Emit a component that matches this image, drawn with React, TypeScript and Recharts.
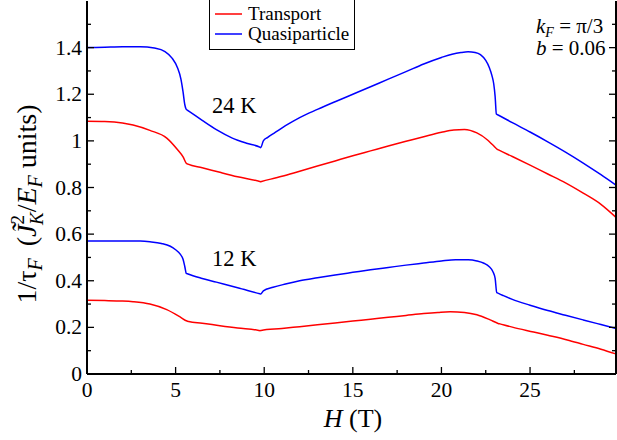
import { Legend, Line, LineChart, XAxis, YAxis } from "recharts";

const H_24_QP = [0, 1, 2, 3, 3.8, 4.4, 4.8, 5.1, 5.3, 5.42, 5.52, 5.6, 5.7, 6.5, 7.3, 8.2, 9.0, 9.75, 9.8, 9.95, 10.2, 10.6, 11.2, 12, 13, 14, 15, 16, 17, 18, 19, 20, 20.6, 21.1, 21.5, 21.9, 22.2, 22.5, 22.7, 22.85, 22.95, 23.03, 23.1, 23.2, 24, 25, 26, 27, 28, 29, 29.85];
const V_24_QP = [1.4, 1.402, 1.404, 1.404, 1.398, 1.383, 1.355, 1.315, 1.265, 1.21, 1.155, 1.135, 1.13, 1.088, 1.048, 1.012, 0.99, 0.973, 0.971, 1.0, 1.015, 1.035, 1.065, 1.1, 1.135, 1.168, 1.2, 1.232, 1.265, 1.297, 1.33, 1.358, 1.372, 1.379, 1.382, 1.379, 1.37, 1.345, 1.315, 1.28, 1.245, 1.19, 1.115, 1.111, 1.078, 1.038, 0.996, 0.952, 0.905, 0.855, 0.81];

const H_24_TR = [0, 1, 2, 2.6, 3.55, 4.5, 5.1, 5.43, 5.6, 5.7, 6.5, 7.5, 8.5, 9.75, 9.8, 9.85, 11, 12, 13, 14, 15, 16, 17, 18, 19, 20, 20.7, 21.3, 22.0, 22.6, 22.9, 23.15, 23.25, 24, 25, 26, 27, 28, 29, 29.85];
const V_24_TR = [1.084, 1.083, 1.077, 1.068, 1.045, 1.012, 0.963, 0.93, 0.904, 0.9, 0.885, 0.865, 0.846, 0.826, 0.825, 0.826, 0.848, 0.87, 0.892, 0.914, 0.936, 0.957, 0.978, 0.998, 1.018, 1.037, 1.047, 1.049, 1.034, 1.004, 0.982, 0.964, 0.96, 0.933, 0.896, 0.858, 0.82, 0.776, 0.728, 0.672];

const H_12_QP = [0, 1, 2, 3, 3.55, 4.2, 4.7, 5.0, 5.25, 5.42, 5.52, 5.6, 5.7, 6.5, 7.3, 8.5, 9.75, 9.8, 9.95, 10.5, 11.2, 12, 13, 14, 15, 16, 17, 18, 19, 20, 20.8, 21.5, 22.0, 22.4, 22.7, 22.9, 23.03, 23.12, 23.22, 23.5, 24, 25, 26, 27, 28, 29, 29.85];
const V_12_QP = [0.57, 0.571, 0.571, 0.57, 0.567, 0.56, 0.548, 0.533, 0.515, 0.492, 0.46, 0.432, 0.429, 0.41, 0.394, 0.37, 0.344, 0.343, 0.357, 0.372, 0.386, 0.4, 0.413, 0.425, 0.436, 0.447, 0.457, 0.467, 0.476, 0.485, 0.49, 0.49, 0.485, 0.475, 0.46, 0.44, 0.41, 0.35, 0.346, 0.336, 0.32, 0.295, 0.272, 0.252, 0.232, 0.212, 0.195];

const H_12_TR = [0, 1, 2, 2.6, 3.55, 4.5, 5.25, 5.64, 5.74, 6.5, 7.5, 8.5, 9.7, 9.76, 9.82, 11, 12, 13, 14, 15, 16, 17, 18, 19, 19.8, 20.5, 21.3, 22.0, 22.75, 23.2, 23.3, 24, 25.2, 26, 27.1, 28, 29, 29.85];
const V_12_TR = [0.316, 0.315, 0.313, 0.31, 0.3, 0.276, 0.245, 0.227, 0.225, 0.218, 0.207, 0.197, 0.187, 0.186, 0.187, 0.195, 0.203, 0.211, 0.219, 0.227, 0.235, 0.243, 0.251, 0.259, 0.264, 0.267, 0.264, 0.254, 0.232, 0.217, 0.215, 0.201, 0.18, 0.166, 0.146, 0.127, 0.106, 0.086];

const X_TICKS = [0, 2.5, 5, 7.5, 10, 12.5, 15, 17.5, 20, 22.5, 25, 27.5];
const Y_TICKS = [0, 0.1, 0.2, 0.3, 0.4, 0.5, 0.6, 0.7, 0.8, 0.9, 1, 1.1, 1.2, 1.3, 1.4, 1.5];
const LEGEND_ORDER = ["Transport", "Quasiparticle"];

const RED = "#ff0000";
const BLUE = "#0000ff";
const FONT = "'Liberation Serif', 'DejaVu Serif', 'Times New Roman', serif";
const serif = { fontFamily: FONT };

const toPoints = (hs: number[], vs: number[]) => hs.map((h, i) => ({ h, v: vs[i] }));

const isMajorX = (v: number) => v % 5 === 0;
const isMajorY = (v: number) => Math.round(v * 10) % 2 === 0;

function BottomTick({ x, y, payload }: any) {
  const major = isMajorX(payload.value);
  return (
    <g>
      <line x1={x} x2={x} y1={y} y2={y - (major ? 7 : 4)} stroke="#000" strokeWidth={1.3} />
      {major && (
        <text x={x} y={y + 23} textAnchor="middle" style={serif} fontSize={21.5} fill="#000">
          {payload.value}
        </text>
      )}
    </g>
  );
}

function TopTick({ x, y, payload }: any) {
  const major = isMajorX(payload.value);
  return <line x1={x} x2={x} y1={y} y2={y + (major ? 7 : 4)} stroke="#000" strokeWidth={1.3} />;
}

function LeftTick({ x, y, payload }: any) {
  const major = isMajorY(payload.value);
  return (
    <g>
      <line x1={x} x2={x + (major ? 7 : 4)} y1={y} y2={y} stroke="#000" strokeWidth={1.3} />
      {major && (
        <text x={x - 5} y={y + 7} textAnchor="end" style={serif} fontSize={21.5} fill="#000">
          {String(Math.round(payload.value * 10) / 10)}
        </text>
      )}
    </g>
  );
}

function RightTick({ x, y, payload }: any) {
  const major = isMajorY(payload.value);
  return <line x1={x} x2={x - (major ? 7 : 4)} y1={y} y2={y} stroke="#000" strokeWidth={1.3} />;
}

function LegendBox({ payload }: any) {
  const items = (payload ?? [])
    .filter((p: any) => p.type !== "none")
    .sort((a: any, b: any) => LEGEND_ORDER.indexOf(a.value) - LEGEND_ORDER.indexOf(b.value));
  return (
    <svg width={146} height={51} style={{ display: "block" }}>
      <rect x={0.5} y={0.5} width={145} height={50} fill="#fff" stroke="#000" strokeWidth={1} />
      {items.map((item: any, i: number) => (
        <g key={item.value}>
          <line x1={6} x2={33} y1={15 + i * 20} y2={15 + i * 20} stroke={item.color} strokeWidth={1.5} />
          <text x={39} y={21 + i * 20} style={serif} fontSize={19} fill="#000">
            {item.value}
          </text>
        </g>
      ))}
    </svg>
  );
}

export default function App() {
  return (
    <div style={{ position: "relative", width: 617, height: 440, background: "#fff" }}>
      <style>{"body{margin:0;background:#fff}"}</style>
      <LineChart width={617} height={440} margin={{ top: 1, right: 0, bottom: 0, left: 0 }}>
        <XAxis xAxisId="b" type="number" dataKey="h" domain={[0, 29.85]} ticks={X_TICKS} interval={0} height={66}
          allowDataOverflow tickSize={0} tickMargin={0} tickLine={false} tick={BottomTick}
          axisLine={{ stroke: "#000", strokeWidth: 2 }} />
        <XAxis xAxisId="t" orientation="top" type="number" dataKey="h" domain={[0, 29.85]} ticks={X_TICKS} interval={0} height={0}
          allowDataOverflow tickSize={0} tickMargin={0} tickLine={false} tick={TopTick}
          axisLine={{ stroke: "#000", strokeWidth: 2 }} />
        <YAxis yAxisId="l" type="number" domain={[0, 1.6]} ticks={Y_TICKS} interval={0} width={87}
          allowDataOverflow tickSize={0} tickMargin={0} tickLine={false} tick={LeftTick}
          axisLine={{ stroke: "#000", strokeWidth: 2 }} />
        <YAxis yAxisId="r" orientation="right" type="number" domain={[0, 1.6]} ticks={Y_TICKS} interval={0} width={1}
          allowDataOverflow tickSize={0} tickMargin={0} tickLine={false} tick={RightTick}
          axisLine={{ stroke: "#000", strokeWidth: 2 }} />
        <Line xAxisId="b" yAxisId="l" data={toPoints(H_24_TR, V_24_TR)} dataKey="v" name="Transport" type="monotone"
          stroke={RED} strokeWidth={1.5} dot={false} isAnimationActive={false} />
        <Line xAxisId="b" yAxisId="l" data={toPoints(H_24_QP, V_24_QP)} dataKey="v" name="Quasiparticle" type="monotone"
          stroke={BLUE} strokeWidth={1.5} dot={false} isAnimationActive={false} />
        <Line xAxisId="b" yAxisId="l" data={toPoints(H_12_TR, V_12_TR)} dataKey="v" name="Transport 12 K" legendType="none" type="monotone"
          stroke={RED} strokeWidth={1.5} dot={false} isAnimationActive={false} />
        <Line xAxisId="b" yAxisId="l" data={toPoints(H_12_QP, V_12_QP)} dataKey="v" name="Quasiparticle 12 K" legendType="none" type="monotone"
          stroke={BLUE} strokeWidth={1.5} dot={false} isAnimationActive={false} />
        <Legend layout="vertical" align="center" verticalAlign="middle" content={LegendBox}
          wrapperStyle={{ left: 209, top: -1, width: 146, height: 51 }} />
      </LineChart>
      <svg width={617} height={440} style={{ position: "absolute", left: 0, top: 0, pointerEvents: "none" }}>
        <g style={serif} fill="#000">
          <text fontSize={22.5} x={212} y={113}>24 K</text>
          <text fontSize={22.5} x={212} y={266}>12 K</text>
          <text fontSize={21} x={536} y={33}>
            <tspan fontStyle="italic">k</tspan>
            <tspan fontStyle="italic" fontSize={14} dy={4}>F</tspan>
            <tspan dy={-4}>{" = π/3"}</tspan>
          </text>
          <text fontSize={21} x={536} y={55}>
            <tspan fontStyle="italic">b</tspan>
            <tspan>{" = 0.06"}</tspan>
          </text>
          <text fontSize={26} x={353} y={427} textAnchor="middle">
            <tspan fontStyle="italic">H</tspan>
            <tspan>{" (T)"}</tspan>
          </text>
          <text fontSize={28} transform="translate(36,204) rotate(-90)" textAnchor="middle">
            <tspan>1/τ</tspan>
            <tspan fontStyle="italic" fontSize={20} dy={6}>F</tspan>
            <tspan dy={-6} dx={12}>(</tspan>
            <tspan fontStyle="italic">J̃</tspan>
            <tspan fontSize={19} dy={-12}>2</tspan>
            <tspan fontStyle="italic" fontSize={19} dx={-10} dy={19}>K</tspan>
            <tspan dy={-7}>/</tspan>
            <tspan fontStyle="italic">E</tspan>
            <tspan fontStyle="italic" fontSize={20} dy={6}>F</tspan>
            <tspan dy={-6}>{" units)"}</tspan>
          </text>
        </g>
      </svg>
    </div>
  );
}
